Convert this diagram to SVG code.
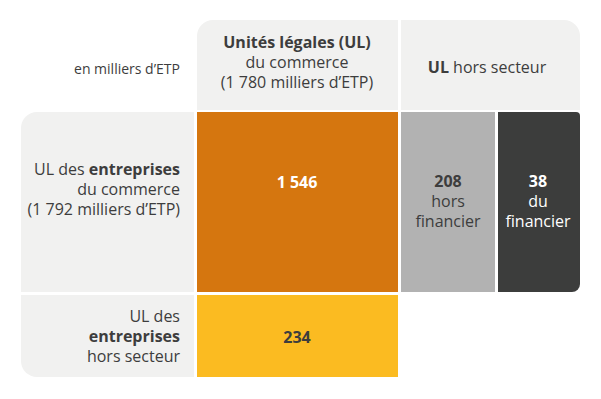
<svg xmlns="http://www.w3.org/2000/svg" width="601" height="399" viewBox="0 0 601 399">
<style>
text{font-family:"Open Sans","Noto Sans",sans-serif;font-size:16px;fill:#3d3d3d}
.b{font-weight:bold}
.w{fill:#ffffff}
.m{text-anchor:middle}
.e{text-anchor:end}
.s{font-size:14px}
</style>
<rect width="601" height="399" fill="#ffffff"/>
<g id="label-unit">
<text class="m s" x="127" y="74">en milliers d’ETP</text>
</g>
<g id="col-ul-commerce">
<path d="M197,36 a16,16 0 0 1 16,-16 H398 V110 H197 Z" fill="#f1f1f0"/>
<text class="m b" x="297" y="48">Unités légales (UL)</text>
<text class="m" x="297" y="68">du commerce</text>
<text class="m" x="297" y="88">(1 780 milliers d’ETP)</text>
</g>
<g id="col-ul-hors">
<path d="M401,20 H564 a16,16 0 0 1 16,16 V110 H401 Z" fill="#f1f1f0"/>
<text class="m" x="487" y="73"><tspan class="b">UL</tspan> hors secteur</text>
</g>
<g id="row-ent-commerce">
<path d="M21,128 a16,16 0 0 1 16,-16 H194 V292 H21 Z" fill="#f1f1f0"/>
<text class="e" x="180" y="175">UL des <tspan class="b">entreprises</tspan></text>
<text class="e" x="180" y="195">du commerce</text>
<text class="e" x="180" y="215">(1 792 milliers d’ETP)</text>
</g>
<g id="cell-1546">
<rect x="197" y="112" width="201" height="180" fill="#d5760f"/>
<text class="m b w" x="297" y="188">1 546</text>
</g>
<g id="cell-208">
<rect x="401" y="112" width="94" height="180" fill="#b2b2b2"/>
<text class="m b" x="448" y="187">208</text>
<text class="m" x="448" y="207">hors</text>
<text class="m" x="448" y="227">financier</text>
</g>
<g id="cell-38">
<path d="M498,112 H576 a4,4 0 0 1 4,4 V284 a8,8 0 0 1 -8,8 H498 Z" fill="#3c3d3c"/>
<text class="m b w" x="538" y="187">38</text>
<text class="m w" x="538" y="207">du</text>
<text class="m w" x="538" y="227">financier</text>
</g>
<g id="row-ent-hors">
<path d="M21,295 H194 V377 H37 a16,16 0 0 1 -16,-16 Z" fill="#f1f1f0"/>
<text class="e" x="180" y="322">UL des</text>
<text class="e b" x="180" y="342">entreprises</text>
<text class="e" x="180" y="362">hors secteur</text>
</g>
<g id="cell-234">
<rect x="197" y="295" width="201" height="82" fill="#fbbb21"/>
<text class="m b" x="297" y="343">234</text>
</g>
<g id="connectors"/>
</svg>
